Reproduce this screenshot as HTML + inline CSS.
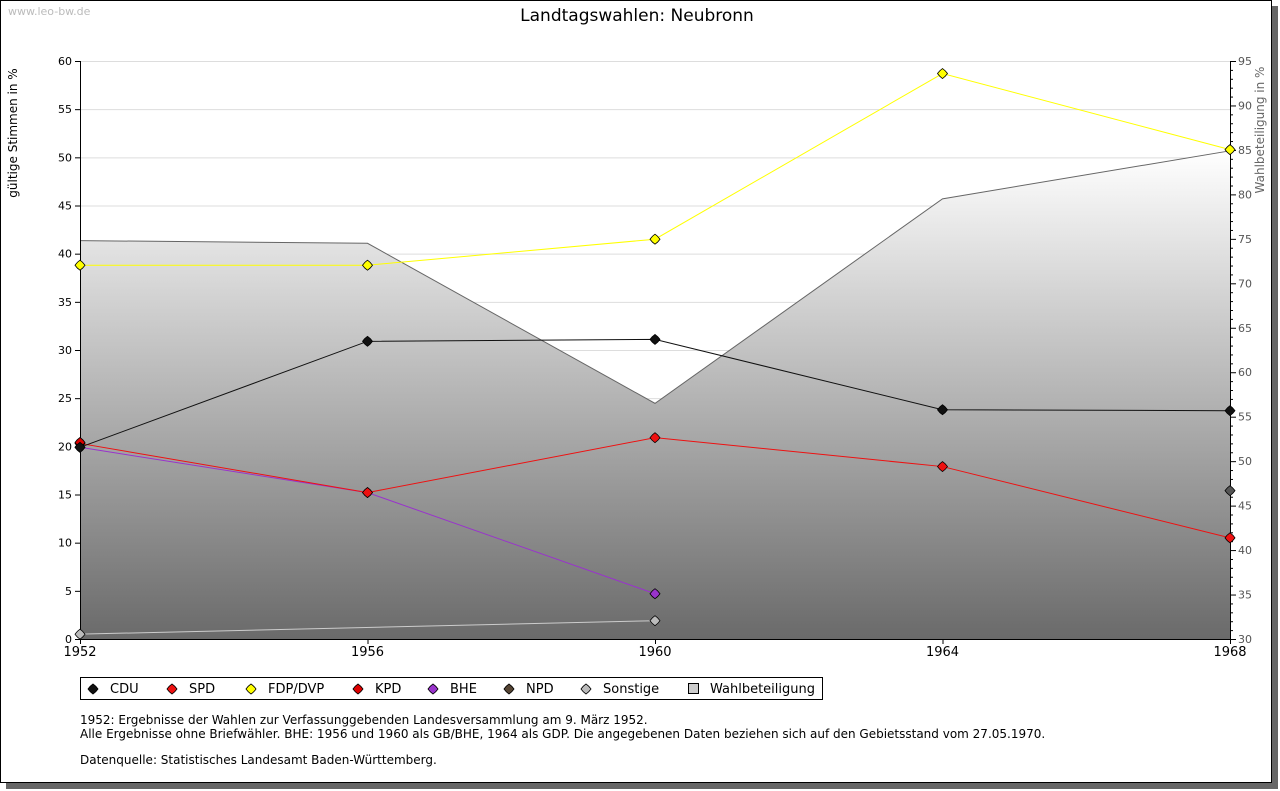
<!DOCTYPE html>
<html><head><meta charset="utf-8"><style>
body{margin:0;background:#fff;font-family:"DejaVu Sans",sans-serif}
#frame{position:absolute;left:0;top:0;width:1272px;height:783px;border:1px solid #000;box-sizing:border-box;background:#fff;box-shadow:6px 6px 0 #666}
</style></head><body>
<div id="frame"></div>
<svg id="c" width="1280" height="791" style="position:absolute;left:0;top:0" font-family="DejaVu Sans, sans-serif">
<defs><linearGradient id="g" x1="0" y1="0" x2="0" y2="1"><stop offset="0" stop-color="#ffffff"/><stop offset="1" stop-color="#6a6a6a"/></linearGradient></defs>
<text x="8" y="15" font-size="11" fill="#bbb">www.leo-bw.de</text>
<text x="637" y="21" font-size="17" text-anchor="middle">Landtagswahlen: Neubronn</text>
<text transform="translate(17,133) rotate(-90)" font-size="12" text-anchor="middle">gültige Stimmen in %</text>
<text transform="translate(1264,130) rotate(-90)" font-size="12" fill="#666" text-anchor="middle">Wahlbeteiligung in %</text>
<g id="plot"></g>
<g id="legend">
<rect x="80.5" y="677.5" width="742" height="22" fill="#fff" stroke="#000"/>
</g>
<text font-size="12"><tspan x="80" y="724">1952: Ergebnisse der Wahlen zur Verfassunggebenden Landesversammlung am 9. März 1952.</tspan><tspan x="80" y="738">Alle Ergebnisse ohne Briefwähler. BHE: 1956 und 1960 als GB/BHE, 1964 als GDP. Die angegebenen Daten beziehen sich auf den Gebietsstand vom 27.05.1970.</tspan><tspan x="80" y="764">Datenquelle: Statistisches Landesamt Baden-Württemberg.</tspan></text>
</svg>
<script>
const years=[1952,1956,1960,1964,1968];
const turnout=[74.8,74.5,56.5,79.5,84.9];
const cdu=[19.9,30.9,31.1,23.8,23.7];
const spd=[20.3,15.2,20.9,17.9,10.5];
const fdp=[38.8,38.8,41.5,58.7,50.8];
const kpd=[20.4,null,null,null,null];
const bhe=[19.9,15.2,4.7,null,null];
const npd=[null,null,null,null,15.4];
const sonst=[0.5,null,1.9,null,null];
const leftTicks=[0,5,10,15,20,25,30,35,40,45,50,55,60];
const rightTicks=[30,35,40,45,50,55,60,65,70,75,80,85,90,95];
const X0=80,X1=1230,Y0=639,Y1=61;
const x=y=>X0+(y-1952)/(1968-1952)*(X1-X0);
const yl=v=>Y0-v/60*(Y0-Y1);
const yr=v=>Y0-(v-30)/65*(Y0-Y1);
const NS="http://www.w3.org/2000/svg";
const P=document.getElementById('plot');
function mk(t,a,p){const e=document.createElementNS(NS,t);for(const k in a)e.setAttribute(k,a[k]);(p||P).appendChild(e);return e;}
leftTicks.forEach(v=>{const l=mk('line',{x1:X0,x2:X1,y1:yl(v)+.5,y2:yl(v)+.5,stroke:'#ddd'});

});
let d='M'+x(years[0])+','+Y0;years.forEach((yy,i)=>d+=' L'+x(yy)+','+yr(turnout[i]));d+=' L'+x(years[4])+','+Y0+'Z';
const ar=mk('path',{d:d,fill:'url(#g)'});


const tl=mk('polyline',{points:years.map((yy,i)=>x(yy)+','+yr(turnout[i])).join(' '),fill:'none',stroke:'#666'});


mk('line',{x1:X0+.5,x2:X0+.5,y1:Y1,y2:Y0,stroke:'#000'});
mk('line',{x1:X1+.5,x2:X1+.5,y1:Y1,y2:Y0,stroke:'#000'});
mk('line',{x1:X0,x2:X1,y1:Y0+.5,y2:Y0+.5,stroke:'#000'});
leftTicks.forEach(v=>{mk('line',{x1:X0-5,x2:X0,y1:yl(v)+.5,y2:yl(v)+.5,stroke:'#000'});
const t=mk('text',{x:X0-8,y:yl(v)+4,'font-size':11,'text-anchor':'end'});t.textContent=v;

});
for(let v=30;v<=95;v++){mk('line',{x1:X1,x2:X1+(v%5?3:6),y1:yr(v)+.5,y2:yr(v)+.5,stroke:'#000'});}
rightTicks.forEach(v=>{const t=mk('text',{x:X1+8,y:yr(v)+4,'font-size':11,fill:'#555'});t.textContent=v;

});
years.forEach(yy=>{mk('line',{x1:x(yy)+.5,x2:x(yy)+.5,y1:Y0,y2:Y0+5,stroke:'#000'});
const t=mk('text',{x:x(yy),y:Y0+17,'font-size':13,'text-anchor':'middle'});t.textContent=yy;

});
function dia(cx,cy,fill,p){return mk('path',{d:`M${cx},${cy-5}Q${cx+3},${cy-3} ${cx+5},${cy}Q${cx+3},${cy+3} ${cx},${cy+5}Q${cx-3},${cy+3} ${cx-5},${cy}Q${cx-3},${cy-3} ${cx},${cy-5}Z`,fill:fill,stroke:'#000','stroke-width':0.8},p);}
function series(arr,col,line,name){
 const pts=years.map((yy,i)=>arr[i]==null?null:[x(yy),yl(arr[i])]).filter(p=>p);
 if(pts.length>1){const l=mk('polyline',{points:pts.map(p=>p.join(',')).join(' '),fill:'none',stroke:line});
 
 }
 pts.forEach(p=>{const m=dia(p[0],p[1],col);
 
 });
}
series(sonst,'#bbb','#ccc','sonstige');
series(bhe,'#9933cc','#9933cc','bhe');
series(spd,'#ee1111','#ee1111','spd');
series(kpd,'#dd0000','#dd0000','kpd');
series(cdu,'#111','#111','cdu');
series(fdp,'#ffff00','#ffff00','fdp');
series(npd,'#555','#555','npd');
const L=document.getElementById('legend');
const items=[['CDU','#111',93],['SPD','#ee1111',172],['FDP/DVP','#ffff00',251],['KPD','#dd0000',358],['BHE','#9933cc',433],['NPD','#554433',509],['Sonstige','#bbb',586]];
items.forEach(it=>{const m=dia(it[2],689,it[1],L);


const t=mk('text',{x:it[2]+17,y:693,'font-size':13},L);t.textContent=it[0];

});
const sq=mk('rect',{x:688.5,y:683.5,width:10,height:10,fill:'#ccc',stroke:'#000'},L);


const tw=mk('text',{x:710,y:693,'font-size':13},L);tw.textContent='Wahlbeteiligung';


</script>
</body></html>
